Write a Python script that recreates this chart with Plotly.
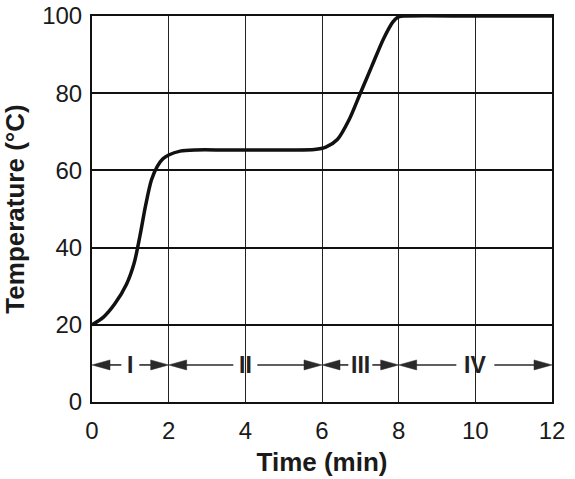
import plotly.graph_objects as go

# ---- data ----
time_min = [0, 0.3, 0.6, 0.9, 1.1, 1.25, 1.4, 1.55, 1.7, 1.85, 2.0, 2.3, 2.7, 3.5, 5.0, 5.8, 6.1, 6.4, 6.7, 7.0, 7.3, 7.6, 7.85, 8.0, 8.2, 10.0, 12.0]
temp_c = [20, 22, 25.5, 30.5, 36, 43, 51, 57.5, 61, 63, 64, 65, 65.3, 65.3, 65.3, 65.4, 66, 68, 73, 80, 87, 94, 98.5, 99.8, 100, 100, 100]

region_labels = ["I", "II", "III", "IV"]
region_bounds = [0, 2, 6, 8, 12]
region_label_halfgap_px = [9, 12, 12, 19]  # half width of gap around label
region_y = 9.6

x_ticks = [0, 2, 4, 6, 8, 10, 12]
y_ticks = [0, 20, 40, 60, 80, 100]

# ---- geometry helpers ----
L, R, T, B = 92, 23, 16, 77
W, H = 575, 479
px_per_x = (W - L - R) / 12.0
px_per_y = (H - T - B) / 100.0
head_len = 18 / px_per_x
head_half = 5 / px_per_y

fig = go.Figure()

fig.add_trace(go.Scatter(x=time_min, y=temp_c, mode="lines",
                         line=dict(color="#111", width=3.5, shape="spline", smoothing=0.8),
                         hoverinfo="skip", showlegend=False))

ink = "#2a2a2a"
for i, lab in enumerate(region_labels):
    a, b = region_bounds[i], region_bounds[i + 1]
    c = (a + b) / 2
    g = region_label_halfgap_px[i] / px_per_x
    # shafts
    for x0, x1 in [(a + head_len * 0.9, c - g), (c + g, b - head_len * 0.9)]:
        if x1 > x0:
            fig.add_trace(go.Scatter(x=[x0, x1], y=[region_y, region_y], mode="lines",
                                     line=dict(color=ink, width=1.6), hoverinfo="skip", showlegend=False))
    # heads
    fig.add_trace(go.Scatter(x=[a, a + head_len, a + head_len, a], y=[region_y, region_y + head_half, region_y - head_half, region_y],
                             mode="lines", fill="toself", fillcolor=ink, line=dict(color=ink, width=0.5),
                             hoverinfo="skip", showlegend=False))
    fig.add_trace(go.Scatter(x=[b, b - head_len, b - head_len, b], y=[region_y, region_y + head_half, region_y - head_half, region_y],
                             mode="lines", fill="toself", fillcolor=ink, line=dict(color=ink, width=0.5),
                             hoverinfo="skip", showlegend=False))
    fig.add_annotation(x=c, y=region_y, text=lab, showarrow=False,
                       font=dict(family="Liberation Sans", size=23, color="#222", weight="bold"),
                       xanchor="center", yanchor="middle")

fig.update_layout(
    width=W, height=H,
    margin=dict(l=L, r=R, t=T, b=B, autoexpand=False),
    paper_bgcolor="white", plot_bgcolor="white",
    font=dict(family="Liberation Sans", color="#1a1a1a"),
    xaxis=dict(range=[0, 12], tickvals=x_ticks, ticktext=[str(v) for v in x_ticks],
               showgrid=True, gridcolor="#222", gridwidth=1.2,
               showline=True, linecolor="#111", linewidth=2, mirror=True,
               zeroline=False, ticks="", ticklabelstandoff=6, automargin=False,
               tickfont=dict(size=24),
               title=dict(text="Time (min)", font=dict(size=26, weight="bold"), standoff=10)),
    yaxis=dict(range=[0, 100], tickvals=y_ticks, ticktext=[str(v) for v in y_ticks],
               showgrid=True, gridcolor="#111", gridwidth=2,
               showline=True, linecolor="#111", linewidth=2, mirror=True,
               zeroline=False, ticks="", ticklabelstandoff=3, automargin=False,
               tickfont=dict(size=24),
               title=dict(text="Temperature (°C)", font=dict(size=26, weight="bold"), standoff=10)),
)

fig.write_html("out.html", config={"displayModeBar": False},
               post_script="document.body.style.margin='0px';document.body.style.overflow='hidden';")
